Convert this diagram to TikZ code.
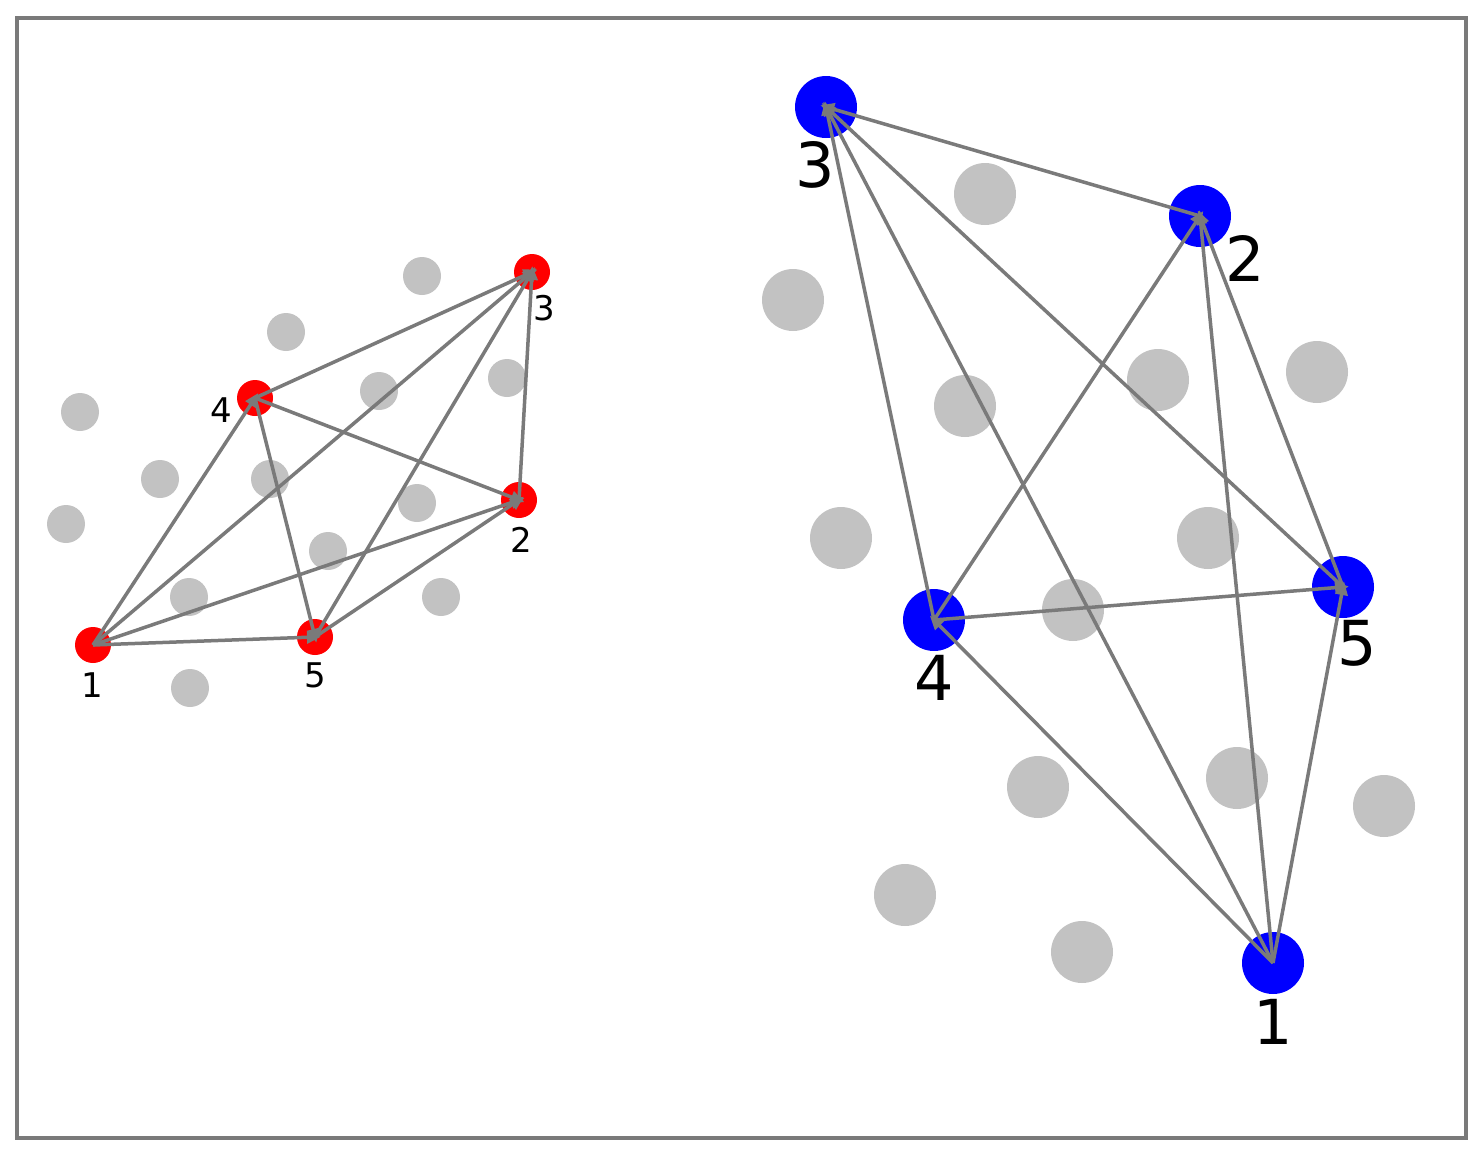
\documentclass[tikz,border=0pt]{standalone}
\usepackage{fontspec}
\setmainfont{DejaVu Sans}
\usetikzlibrary{arrows.meta}
\begin{document}
\begin{tikzpicture}[x=1pt,y=-1pt,
  gs/.style={circle,fill=black!24,inner sep=0,minimum size=#1},
  rn/.style={circle,fill=red,inner sep=0,minimum size=36},
  bn/.style={circle,fill=blue,inner sep=0,minimum size=62},
  ed/.style={draw=black!52,line width=3.5pt,-{Triangle[length=14pt,width=12pt]},shorten >=-6pt},
  sl/.style={font=\fontsize{34}{34}\selectfont},
  bl/.style={font=\fontsize{62}{62}\selectfont}]
\path[use as bounding box] (0,0) rectangle (1484,1162);
\draw[black!52,line width=4pt] (17,18) rectangle (1466,1138);
\foreach \x/\y [count=\i] in {422/276,286/332,80/412,379/391,507/378,160/479,270/479,417/503,66/524,328/551,189/597,441/597,190/688}
  \node[gs=38] (gl\i) at (\x,\y) {};
\foreach \x/\y [count=\i] in {985/194,793/300,1158/380,1317/372,965/406,841/538,1208/538,1073/610,1038/787,1237/778,1384/806,905/895,1082/952}
  \node[gs=62] (gr\i) at (\x,\y) {};
\node[rn] (r1) at (93,645) {}; \node[rn] (r2) at (519,500) {};
\node[rn] (r3) at (532,272) {}; \node[rn] (r4) at (255,398) {};
\node[rn] (r5) at (315,637) {};
\node[bn] (b1) at (1273,963) {}; \node[bn] (b2) at (1200,216) {};
\node[bn] (b3) at (826,107) {}; \node[bn] (b4) at (934,620) {};
\node[bn] (b5) at (1343,587) {};
\foreach \a/\b in {1/4,1/3,1/2,1/5,4/3,4/2,4/5,5/3,5/2,2/3}
  \draw[ed] (r\a.center) -- (r\b.center);
\foreach \a/\b in {2/3,4/3,1/3,5/3,4/2,1/2,5/2,4/5,1/4,1/5}
  \draw[ed] (b\a.center) -- (b\b.center);
\node[sl] (lr1) at (92,685) {1}; \node[sl] (lr2) at (521,540) {2};
\node[sl] (lr3) at (544,308) {3}; \node[sl] (lr4) at (221,410) {4};
\node[sl] (lr5) at (315,675) {5};
\node[bl] (lb1) at (1273,1022) {1}; \node[bl] (lb2) at (1245,258) {2};
\node[bl] (lb3) at (815,165) {3}; \node[bl] (lb4) at (934,678) {4};
\node[bl] (lb5) at (1357,643) {5};
\end{tikzpicture}
\end{document}
